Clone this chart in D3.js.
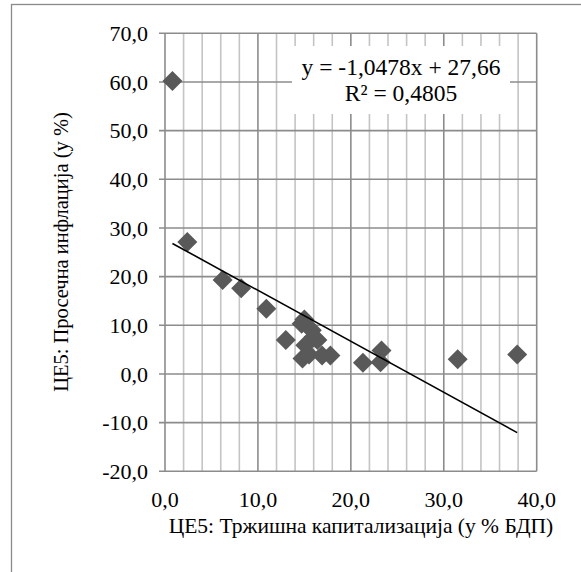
<!DOCTYPE html>
<html>
<head>
<meta charset="utf-8">
<script src="https://cdn.jsdelivr.net/npm/d3@7"></script>
<style>
  html, body { margin: 0; padding: 0; background: #fff; }
  svg { display: block; }
  text { font-family: "Liberation Serif", "Times New Roman", serif; fill: #000; }
</style>
</head>
<body>
<script>
// ---- data ----
const marketCap = [0.8, 2.4, 6.2, 8.2, 10.9, 13.0, 14.7, 15.0, 15.8, 16.0, 16.4, 15.1, 14.8, 15.5, 16.9, 17.8, 21.3, 23.3, 23.2, 31.5, 37.9];
const inflation = [60.2, 27.1, 19.3, 17.6, 13.4, 7.0, 10.3, 11.2, 9.0, 7.6, 7.0, 5.9, 3.2, 4.0, 3.8, 3.8, 2.3, 4.8, 2.4, 3.0, 4.0];
const xTicks = [0, 10, 20, 30, 40];
const yTicks = [-20, -10, 0, 10, 20, 30, 40, 50, 60, 70];
const xMinorTicks = d3.range(0, 41, 2);
const slope = -1.0478, intercept = 27.66;
const eqLine1 = "y = -1,0478x + 27,66";
const eqLine2 = "R² = 0,4805";
const xTitle = "ЦЕ5: Тржишна капитализација (у % БДП)";
const yTitle = "ЦЕ5: Просечна инфлација (у %)";

const W = 581, H = 572;
const svg = d3.select("body").append("svg").attr("width", W).attr("height", H);

// outer chart border (clipped at right/bottom)
svg.append("rect").attr("x", 11.5).attr("y", 4.5).attr("width", 700).attr("height", 700)
  .attr("fill", "none").attr("stroke", "#8a8a8a").attr("stroke-width", 1.3);

const x = d3.scaleLinear().domain([0, 40]).range([165, 536.7]);
const y = d3.scaleLinear().domain([-20, 70]).range([471.3, 33.3]);
const fmt = v => d3.format(".1f")(v).replace(".", ",").replace("−", "-");

// minor vertical grid
svg.append("g").selectAll("line").data(xMinorTicks.filter(v => v % 10 !== 0)).join("line")
  .attr("x1", d => x(d)).attr("x2", d => x(d)).attr("y1", y(70)).attr("y2", y(-20))
  .attr("stroke", "#c4c4c4").attr("stroke-width", 1.6);
// major vertical grid
svg.append("g").selectAll("line").data(xTicks).join("line")
  .attr("x1", d => x(d)).attr("x2", d => x(d)).attr("y1", y(70)).attr("y2", y(-20))
  .attr("stroke", "#8c8c8c").attr("stroke-width", 1.6);
// horizontal grid + ticks
svg.append("g").selectAll("line").data(yTicks).join("line")
  .attr("x1", x(0) - 6).attr("x2", x(40)).attr("y1", d => y(d)).attr("y2", d => y(d))
  .attr("stroke", "#8c8c8c").attr("stroke-width", 1.6);

// y tick labels
svg.append("g").selectAll("text").data(yTicks).join("text")
  .attr("x", 148).attr("y", d => y(d)).attr("dy", "0.35em")
  .attr("text-anchor", "end").attr("font-size", 22).text(fmt);
// x tick labels
svg.append("g").selectAll("text").data(xTicks).join("text")
  .attr("x", d => x(d)).attr("y", 507)
  .attr("text-anchor", "middle").attr("font-size", 22).text(fmt);

// axis titles
svg.append("text").attr("x", 361).attr("y", 533).attr("text-anchor", "middle")
  .attr("font-size", 21.5).text(xTitle);
svg.append("text").attr("transform", "translate(68,252) rotate(-90)")
  .attr("text-anchor", "middle").attr("font-size", 20.5).text(yTitle);

// equation box
svg.append("rect").attr("x", 292).attr("y", 46).attr("width", 218).attr("height", 68).attr("fill", "#fff");
svg.append("text").attr("x", 401).attr("y", 75).attr("text-anchor", "middle").attr("font-size", 23.5).text(eqLine1);
svg.append("text").attr("x", 401).attr("y", 101).attr("text-anchor", "middle").attr("font-size", 23.5).text(eqLine2);

// points
const pts = marketCap.map((v, i) => [v, inflation[i]]);
svg.append("g").selectAll("path").data(pts).join("path")
  .attr("d", d3.symbol().type(d3.symbolSquare).size(200))
  .attr("transform", d => `translate(${x(d[0])},${y(d[1])}) rotate(45)`)
  .attr("fill", "#595959");

// trend line
const [xmin, xmax] = d3.extent(marketCap);
svg.append("line")
  .attr("x1", x(xmin)).attr("y1", y(slope * xmin + intercept))
  .attr("x2", x(xmax)).attr("y2", y(slope * xmax + intercept))
  .attr("stroke", "#000").attr("stroke-width", 1.6);
</script>
</body>
</html>
